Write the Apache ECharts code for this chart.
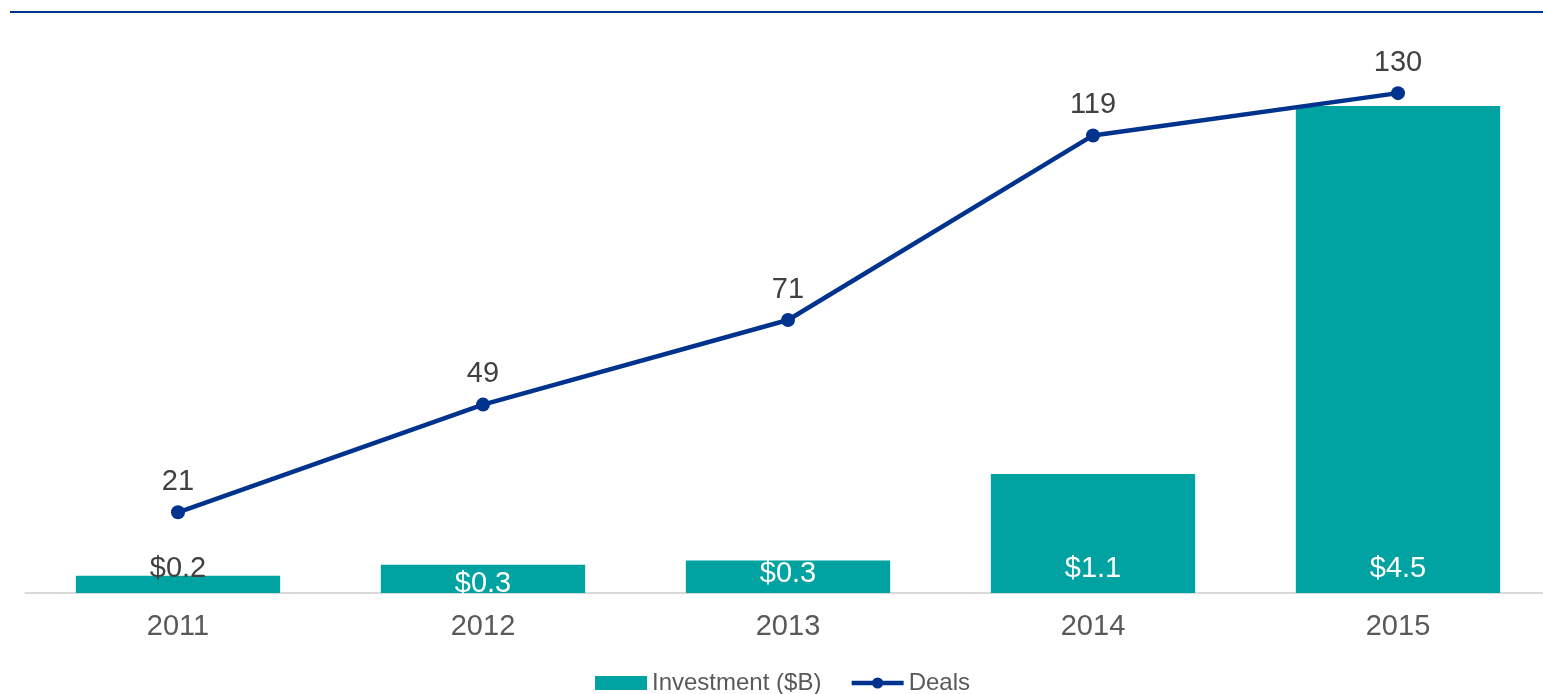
<!DOCTYPE html>
<html>
<head>
<meta charset="utf-8">
<style>
  html, body { margin: 0; padding: 0; background: #ffffff; }
  #chart { width: 1543px; height: 694px; }
</style>
<script src="https://cdn.jsdelivr.net/npm/echarts@6/dist/echarts.min.js"></script>
</head>
<body>
<div id="chart"></div>
<script>
// Annual investment ($B) and deal counts
const years = ['2011', '2012', '2013', '2014', '2015'];
const investment = [0.16, 0.26, 0.3, 1.1, 4.5];
const deals = [21, 49, 71, 119, 130];

const TEAL = '#00A3A1';
const BLUE = '#00338D';
const FONT = '"Liberation Sans", Arial, sans-serif';

// Per-bar label placement (distance from bar base) and colour
const barLabelDist = [10, -5.5, 4.5, 10, 10];
const barLabelColor = ['#404040', '#ffffff', '#ffffff', '#ffffff', '#ffffff'];

const barData = investment.map((v, i) => ({
  value: v,
  label: { distance: barLabelDist[i], color: barLabelColor[i] }
}));

const chart = echarts.init(document.getElementById('chart'), null, { renderer: 'canvas' });

chart.setOption({
  animation: false,
  textStyle: { fontFamily: FONT },
  graphic: [{
    type: 'line',
    shape: { x1: 10, y1: 12, x2: 1543, y2: 12 },
    style: { stroke: BLUE, lineWidth: 2 }
  }],
  grid: { left: 25.5, width: 1525, top: 52, bottom: 101, outerBoundsMode: 'none' },
  legend: {
    top: 666,
    left: 590,
    itemWidth: 52,
    itemHeight: 14,
    itemGap: 28,
    lineStyle: { width: 4.5 },
    textStyle: { fontFamily: FONT, fontSize: 24, color: '#595959' },
    data: [
      { name: 'Investment ($B)', icon: 'rect' },
      { name: 'Deals' }
    ]
  },
  xAxis: {
    type: 'category',
    data: years,
    axisLine: { show: true, lineStyle: { color: '#D9D9D9', width: 2 } },
    axisTick: { show: false },
    axisLabel: { fontFamily: FONT, fontSize: 29, color: '#595959', margin: 19 }
  },
  yAxis: [
    { type: 'value', min: 0, max: 5, show: false, splitLine: { show: false } },
    { type: 'value', min: 0, max: 140.7, show: false, splitLine: { show: false } }
  ],
  series: [
    {
      name: 'Investment ($B)',
      type: 'bar',
      yAxisIndex: 0,
      barCategoryGap: '33%',
      itemStyle: { color: TEAL },
      label: {
        show: true,
        position: 'insideBottom',
        fontFamily: FONT,
        fontSize: 29,
        formatter: p => '$' + p.value.toFixed(1)
      },
      data: barData,
      z: 2
    },
    {
      name: 'Deals',
      type: 'line',
      yAxisIndex: 1,
      symbol: 'circle',
      symbolSize: 14,
      lineStyle: { color: BLUE, width: 4.5 },
      itemStyle: { color: BLUE },
      label: {
        show: true,
        position: 'top',
        distance: 9,
        fontFamily: FONT,
        fontSize: 29,
        color: '#404040'
      },
      data: deals,
      z: 3
    }
  ]
});
</script>
</body>
</html>
